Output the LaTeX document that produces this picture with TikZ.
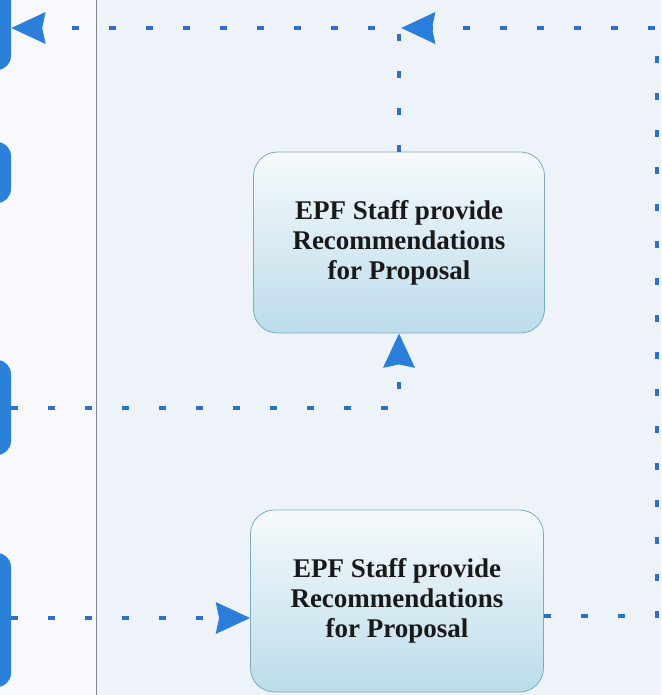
\documentclass[tikz,border=0pt]{standalone}
\usepackage{fontspec}
\setmainfont{Liberation Serif}
\usetikzlibrary{arrows.meta,shadings}
\definecolor{bgright}{HTML}{EEF3FA}
\definecolor{bgleft}{HTML}{F8F9FC}
\definecolor{foldgray}{HTML}{7E8286}
\definecolor{dashblue}{HTML}{2F6FCC}
\definecolor{arrowblue}{HTML}{2B7FDA}
\definecolor{boxblue}{HTML}{2B80DA}
\definecolor{proctop}{HTML}{F6FAFC}
\definecolor{procbot}{HTML}{BCDCEA}
\definecolor{procline}{HTML}{7AAABF}
\begin{document}
\begin{tikzpicture}[x=1pt,y=-1pt,
  procbox/.style={draw=procline, line width=0.8pt, rounded corners=24pt,
    top color=proctop, bottom color=procbot, minimum width=291pt,
    minimum height=181pt, align=center, text=black!90,
    font=\fontsize{27}{30}\selectfont\bfseries},
  sidebox/.style={fill=boxblue, rounded corners=14pt, minimum width=41pt, inner sep=0pt},
  flow/.style={draw=dashblue, line width=4.5pt, dash pattern=on 7pt off 30pt},
  tip/.style={-{Stealth[length=34pt,width=31pt,inset=3pt,color=arrowblue]}}]
\useasboundingbox (0,0) rectangle (661,695);
\clip (0,0) rectangle (661,695);
% pages
\fill[bgleft] (0,0) rectangle (96,695);
\fill[bgright] (96,0) rectangle (661,695);
\draw[foldgray, line width=1.2pt] (96.5,0) -- (96.5,695);
% side boxes (cut off by the left edge)
\node[sidebox, minimum height=84pt] (s1) at (-9.5,28) {};
\node[sidebox, minimum height=61pt] (s2) at (-9.5,172.5) {};
\node[sidebox, minimum height=95pt] (s3) at (-9.5,407.5) {};
\node[sidebox, minimum height=134pt] (s4) at (-9.5,620) {};
% process boxes
\node[procbox] (p1) at (399,242.5) {EPF Staff provide\\Recommendations\\for Proposal};
\node[procbox, minimum width=293pt, minimum height=182pt] (p2) at (397,601) {EPF Staff provide\\Recommendations\\for Proposal};
% junction / corner coordinates
\coordinate (jtop) at (399,28);
\coordinate (jright) at (657,28);
\coordinate (jbr) at (657,616);
\coordinate (jmid) at (399,408);
% connectors
\draw[flow, tip] (p1.north) -- (jtop) -- (s1.east);
\draw[flow, tip] (p2.east |- jbr) -- (jbr) -- (jright) -- ([xshift=2pt]jtop);
\draw[flow, tip] (s3.east |- jmid) -- (jmid) -- (p1.south);
\draw[flow, tip] (s4.east |- 0,618) -- (p2.west |- 0,618);
\end{tikzpicture}
\end{document}
